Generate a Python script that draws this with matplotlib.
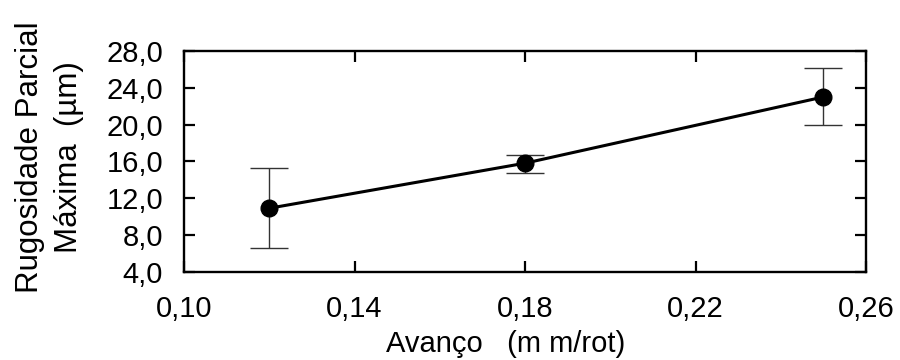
import matplotlib
matplotlib.use("Agg")
import matplotlib.pyplot as plt
from matplotlib.ticker import FuncFormatter

plt.rcParams['font.family'] = ['Liberation Sans', 'DejaVu Sans']

avanco = [0.12, 0.18, 0.25]
rugosidade = [10.9, 15.8, 23.0]
err_low = [6.6, 14.7, 19.9]
err_high = [15.3, 16.7, 26.2]

x_ticks = [0.10, 0.14, 0.18, 0.22, 0.26]
y_ticks = [4.0, 8.0, 12.0, 16.0, 20.0, 24.0, 28.0]

yerr = [[r - lo for r, lo in zip(rugosidade, err_low)],
        [hi - r for r, hi in zip(rugosidade, err_high)]]

fig = plt.figure(figsize=(9, 3.6), dpi=100)
ax = fig.add_axes([184 / 900, 1 - 271.7 / 360, 682 / 900, 220.7 / 360])

ax.errorbar(avanco, rugosidade, yerr=yerr, fmt='none', ecolor='#333333',
            elinewidth=1.0, capsize=14, capthick=1.0, zorder=2)
ax.plot(avanco, rugosidade, color='black', linewidth=2.2, marker='o',
        markersize=12, markerfacecolor='black', zorder=3)

ax.set_xlim(0.10, 0.26)
ax.set_ylim(4.0, 28.0)
ax.set_xticks(x_ticks)
ax.set_yticks(y_ticks)
ax.xaxis.set_major_formatter(FuncFormatter(lambda v, p: f"{v:.2f}".replace('.', ',')))
ax.yaxis.set_major_formatter(FuncFormatter(lambda v, p: f"{v:.1f}".replace('.', ',')))

ax.tick_params(direction='in', length=8, width=1.6, labelsize=21,
               top=True, right=True, labeltop=False, labelright=False)
ax.tick_params(axis='x', pad=17)
ax.tick_params(axis='y', pad=15)
for s in ax.spines.values():
    s.set_linewidth(1.7)

ax.set_xlabel('Avanço   (m m/rot)', fontsize=21, va='top')
ax.xaxis.set_label_coords(0.472, -0.262)
ax.set_ylabel('Rugosidade Parcial\nMáxima  (µm)', fontsize=22.5, linespacing=1.4)
ax.yaxis.set_label_coords(-0.147, 0.52)

fig.savefig('out.png', dpi=100)
